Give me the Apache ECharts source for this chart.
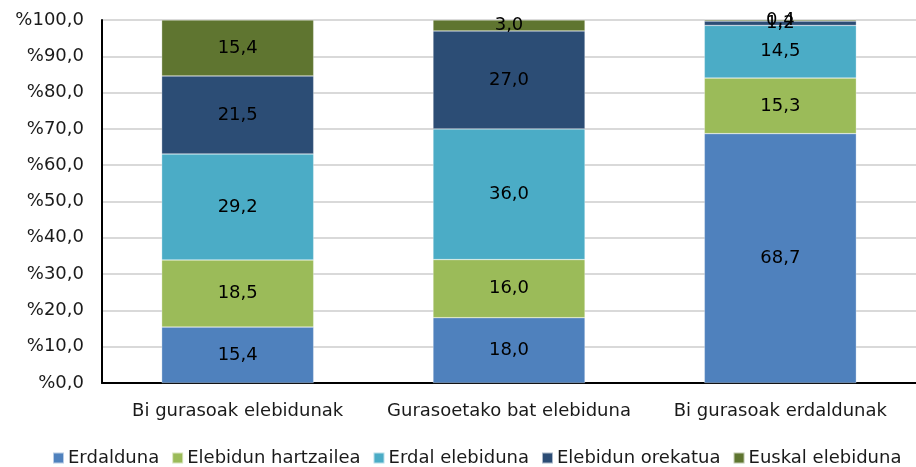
<!DOCTYPE html>
<html><head><meta charset="utf-8">
<script src="https://cdn.jsdelivr.net/npm/echarts@6/dist/echarts.min.js"></script>
<style>html,body{margin:0;padding:0;background:#fff}#c{width:916px;height:467px}</style>
</head><body><div id="c"></div>
<script>
const categories = ['Bi gurasoak elebidunak', 'Gurasoetako bat elebiduna', 'Bi gurasoak erdaldunak'];
const seriesNames = ['Erdalduna', 'Elebidun hartzailea', 'Erdal elebiduna', 'Elebidun orekatua', 'Euskal elebiduna'];
const erdalduna = [15.4, 18.0, 68.7];
const elebidunHartzailea = [18.5, 16.0, 15.3];
const erdalElebiduna = [29.2, 36.0, 14.5];
const elebidunOrekatua = [21.5, 27.0, 1.2];
const euskalElebiduna = [15.4, 3.0, 0.4];
const colors = ['#4F81BD', '#9BBB59', '#4BACC6', '#2C4D75', '#5F7530'];
const values = [erdalduna, elebidunHartzailea, erdalElebiduna, elebidunOrekatua, euskalElebiduna];

const font = "'DejaVu Sans', Verdana, sans-serif";
const chart = echarts.init(document.getElementById('c'));
chart.setOption({
  animation: false,
  color: colors,
  textStyle: { fontFamily: font },
  grid: { left: 102, right: -8, top: 20, bottom: 84 },
  legend: {
    left: 47, top: 444,
    itemWidth: 11, itemHeight: 11, itemGap: 12,
    icon: 'rect',
    textStyle: { fontFamily: font, fontSize: 18, color: '#1a1a1a', padding: [0, 0, 0, -1] },
    data: seriesNames
  },
  xAxis: {
    type: 'category', data: categories,
    axisLine: { lineStyle: { color: '#000', width: 2 } },
    axisTick: { show: false },
    axisLabel: { interval: 0, fontFamily: font, fontSize: 18, color: '#1a1a1a', margin: 19 }
  },
  yAxis: {
    type: 'value', min: 0, max: 100, interval: 10,
    axisLine: { show: true, lineStyle: { color: '#000', width: 2 } },
    axisTick: { show: false },
    splitLine: { lineStyle: { color: '#d9d9d9', width: 2 } },
    axisLabel: {
      fontFamily: font, fontSize: 18, color: '#1a1a1a', margin: 18,
      formatter: v => '%' + v.toFixed(1).replace('.', ',')
    }
  },
  series: seriesNames.map((name, i) => ({
    name, type: 'bar', stack: 'total',
    barWidth: 152,
    data: values[i],
    itemStyle: { color: colors[i], borderColor: 'rgba(255,255,255,0.6)', borderWidth: 0.5 },
    label: {
      show: true, position: 'inside',
      fontFamily: font, fontSize: 18, color: '#000',
      formatter: p => p.value.toFixed(1).replace('.', ',')
    }
  }))
});
</script></body></html>
